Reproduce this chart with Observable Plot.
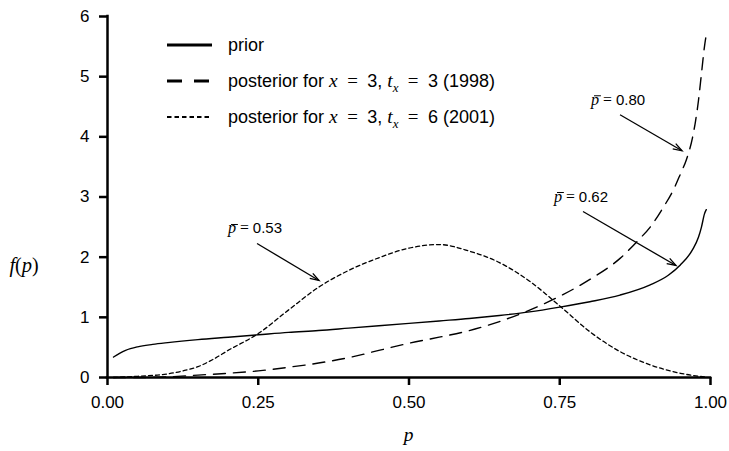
<!DOCTYPE html>
<html><head><meta charset="utf-8">
<script src="https://cdn.jsdelivr.net/npm/d3@7"></script>
<script src="https://cdn.jsdelivr.net/npm/@observablehq/plot@0.6"></script>
<style>
html,body{margin:0;padding:0;background:#fff;}
#chart svg{display:block;}
</style></head>
<body><div id="chart"></div>
<script>
// ---- data ----
const xTicks = [0, 0.25, 0.5, 0.75, 1];
const yTicks = [0, 1, 2, 3, 4, 5, 6];

const pPrior = [0.01,0.02,0.03,0.05,0.075,0.1,0.15,0.2,0.25,0.3,0.35,0.4,0.45,0.5,0.55,0.6,0.65,0.7,0.75,0.8,0.85,0.9,0.93,0.95,0.97,0.98,0.985,0.99,0.993];
const fPrior = [0.34,0.40,0.45,0.51,0.55,0.58,0.63,0.67,0.71,0.75,0.78,0.82,0.86,0.90,0.94,0.98,1.03,1.09,1.17,1.26,1.37,1.54,1.70,1.87,2.12,2.33,2.50,2.72,2.79];

const pPost98 = [0.01,0.05,0.1,0.15,0.2,0.25,0.3,0.35,0.4,0.45,0.5,0.55,0.6,0.65,0.7,0.75,0.8,0.85,0.88,0.9,0.92,0.94,0.95,0.96,0.97,0.975,0.98,0.985,0.99,0.993];
const fPost98 = [0.00,0.00,0.01,0.04,0.07,0.11,0.17,0.24,0.33,0.45,0.57,0.67,0.78,0.93,1.12,1.35,1.63,1.98,2.28,2.50,2.80,3.15,3.38,3.62,3.98,4.25,4.60,5.05,5.50,5.70];

const pPost01 = [0.01,0.05,0.1,0.125,0.15,0.175,0.2,0.25,0.3,0.35,0.4,0.45,0.5,0.55,0.6,0.65,0.7,0.75,0.8,0.85,0.9,0.95,0.99];
const fPost01 = [0.00,0.02,0.06,0.11,0.18,0.30,0.45,0.73,1.12,1.50,1.78,1.99,2.15,2.21,2.10,1.91,1.60,1.19,0.76,0.43,0.21,0.07,0.01];

// legend labels (s = sans text, i = math italic, m = math upright, sub = subscript)
const EQ = "\u2002=\u2002";
const legendLabels = [
  [["prior","s"]],
  [["posterior for ","s"],["x","i"],[EQ,"m"],["3, ","s"],["t","i"],["x","sub"],[EQ,"m"],["3 (1998)","s"]],
  [["posterior for ","s"],["x","i"],[EQ,"m"],["3, ","s"],["t","i"],["x","sub"],[EQ,"m"],["6 (2001)","s"]]
];
// annotations: mean label and the point the arrow reaches
const annLabels = ["0.80", "0.62", "0.53"];
const annP = [0.9536, 0.9436, 0.3516];
const annF = [3.76, 1.853, 1.604];

// ---- styling ----
const SANS = "'Liberation Sans', Arial, sans-serif";
const SERIF = "'Liberation Serif', 'Times New Roman', serif";
const lineStyles = [
  {dash: null, legendDash: null},
  {dash: "12,8", legendDash: "15,12"},
  {dash: "4,3", legendDash: "4.5,3"}
];
const annArrow = [[62,36],[93,54],[62,37]]; // pixel vector from arrow start to end
const legendRowsY = [45, 81, 117];

const toRows = (ps, fs) => ps.map((p, i) => ({p, f: fs[i]}));
const prior = toRows(pPrior, fPrior);
const post98 = toRows(pPost98, fPost98);
const post01 = toRows(pPost01, fPost01);

const plot = Plot.plot({
  width: 729, height: 451,
  marginLeft: 107, marginRight: 19, marginTop: 16, marginBottom: 74,
  x: {domain: [0, 1]},
  y: {domain: [0, 6]},
  style: {fontFamily: SANS, fontSize: "17px", color: "#000", background: "#fff"},
  marks: [
    Plot.axisX({ticks: xTicks, tickFormat: d3.format(".2f"), tickSize: 8, tickPadding: 10, strokeWidth: 2.5, label: null, fontSize: 17}),
    Plot.axisY({ticks: yTicks, tickFormat: d3.format("d"), tickSize: 8, tickPadding: 10, strokeWidth: 2.5, label: null, fontSize: 17}),
    Plot.ruleX([0], {y1: 0, y2: 6, strokeWidth: 2.5, strokeLinecap: "square"}),
    Plot.ruleY([0], {x1: 0, x2: 1, strokeWidth: 2.5, strokeLinecap: "square"}),
    Plot.line(prior, {x: "p", y: "f", curve: "monotone-x", stroke: "#000", strokeWidth: 1.4}),
    Plot.line(post98, {x: "p", y: "f", curve: "monotone-x", stroke: "#000", strokeWidth: 1.4, strokeDasharray: lineStyles[1].dash}),
    Plot.line(post01, {x: "p", y: "f", curve: "monotone-x", stroke: "#000", strokeWidth: 1.3, strokeDasharray: lineStyles[2].dash})
  ]
});
document.getElementById("chart").appendChild(plot);

const svg = d3.select(plot);
const xs = plot.scale("x"), ys = plot.scale("y");
const g = svg.append("g");

function rich(x, y, parts, size, anchor) {
  const t = g.append("text").attr("x", x).attr("y", y).attr("font-size", size)
    .attr("fill", "#000").attr("text-anchor", anchor || "start").style("white-space", "pre");
  let shifted = false;
  const bars = [];
  parts.forEach(([txt, kind]) => {
    const ts = t.append("tspan").text(txt);
    if (kind === "s") ts.attr("font-family", SANS);
    else if (kind === "i" || kind === "bar") ts.attr("font-family", SERIF).attr("font-style", "italic").attr("font-size", size * 1.08);
    else if (kind === "m") ts.attr("font-family", SERIF).attr("font-size", size * 1.05);
    else if (kind === "sub") ts.attr("font-family", SERIF).attr("font-style", "italic").attr("font-size", size * 0.72).attr("dy", size * 0.28);
    if (kind === "sub") shifted = true;
    else if (shifted) { ts.attr("dy", -size * 0.28); shifted = false; }
    if (kind === "bar") bars.push(ts.node());
  });
  bars.forEach(n => {
    const a = n.getStartPositionOfChar(0), b = n.getEndPositionOfChar(0);
    const yb = y - size * 0.6;
    g.append("line").attr("x1", a.x + size * 0.2).attr("x2", b.x + size * 0.12)
      .attr("y1", yb).attr("y2", yb).attr("stroke", "#000").attr("stroke-width", 1);
  });
  return t;
}

// axis labels
rich(24, 272, [["f","i"],["(","m"],["p","i"],[")","m"]], 19, "middle");
rich((xs.range[0] + xs.range[1]) / 2, 441, [["p","i"]], 18, "middle");

// legend
legendLabels.forEach((parts, i) => {
  const y = legendRowsY[i];
  const ln = g.append("line").attr("x1", 167).attr("x2", 212).attr("y1", y).attr("y2", y)
    .attr("stroke", "#000").attr("stroke-width", i === 2 ? 1.8 : 2.8);
  if (lineStyles[i].legendDash) ln.attr("stroke-dasharray", lineStyles[i].legendDash);
  rich(228, y + 6, parts, 18);
});

// annotations
annLabels.forEach((lab, i) => {
  const ex = xs.apply(annP[i]), ey = ys.apply(annF[i]);
  const [vx, vy] = annArrow[i];
  const sx = ex - vx, sy = ey - vy;
  const len = Math.hypot(vx, vy), ux = vx / len, uy = vy / len, nx = -uy, ny = ux;
  g.append("line").attr("x1", sx).attr("y1", sy).attr("x2", ex).attr("y2", ey)
    .attr("stroke", "#000").attr("stroke-width", 1.3);
  const hl = 9, hw = 3;
  g.append("path")
    .attr("d", `M${ex - hl*ux + hw*nx},${ey - hl*uy + hw*ny}L${ex},${ey}L${ex - hl*ux - hw*nx},${ey - hl*uy - hw*ny}`)
    .attr("fill", "none").attr("stroke", "#000").attr("stroke-width", 1.3);
  rich(sx - 29, sy - 10, [["p","bar"],["\u2005=\u2005","m"],[lab,"s"]], 15);
});
</script>
</body></html>
